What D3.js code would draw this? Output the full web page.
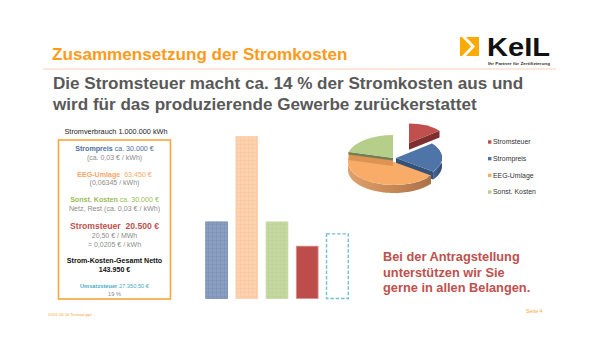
<!DOCTYPE html>
<html>
<head>
<meta charset="utf-8">
<script src="https://cdn.jsdelivr.net/npm/d3@7"></script>
<style>
  html, body { margin: 0; padding: 0; background: white; }
  text { font-family: "Liberation Sans", Arial, sans-serif; }
</style>
</head>
<body>
<div id="container"></div>
<script>
let w = 600;
let h = 350;

// values
let barCategories = ["Strompreis", "EEG-Umlage", "Sonst. Kosten", "Stromsteuer", "Umsatzsteuer"];
let barValues = [30000, 63450, 30000, 20500, 25300];
let pieCategories = ["Stromsteuer", "Strompreis", "EEG-Umlage", "Sonst. Kosten"];
let pieValues = [20500, 30000, 63450, 30000];
let legendLabels = ["Stromsteuer", "Strompreis", "EEG-Umlage", "Sonst. Kosten"];

let colors = {
  "Stromsteuer": "#c0504d",
  "Strompreis": "#4f75a8",
  "EEG-Umlage": "#f9ab67",
  "Sonst. Kosten": "#b5cf8b"
};
let wallColors = {
  "Stromsteuer": "#7e2f2d",
  "Strompreis": "#36527a",
  "EEG-Umlage": "#c98a55",
  "Sonst. Kosten": "#6f7f55"
};
// how far each slice is pulled out of the pie, the far slice also looks smaller
let pieOffset = {
  "Stromsteuer": [16, -15],
  "Strompreis": [3, 0],
  "EEG-Umlage": [1, 4],
  "Sonst. Kosten": [0, 0]
};
let pieShrink = {
  "Stromsteuer": 0.85,
  "Strompreis": 1,
  "EEG-Umlage": 1,
  "Sonst. Kosten": 1
};

let viz = d3.select("#container").append("svg")
    .attr("width", w)
    .attr("height", h)
    .style("display", "block")
    .style("background-color", "white")
;
let defs = viz.append("defs");

function gridPattern(id, fill, line){
  let p = defs.append("pattern")
      .attr("id", id)
      .attr("width", 4)
      .attr("height", 4)
      .attr("patternUnits", "userSpaceOnUse")
  ;
  p.append("rect").attr("width", 4).attr("height", 4).attr("fill", fill);
  p.append("path")
      .attr("d", "M0,0.5H4M0.5,0V4")
      .attr("stroke", line)
      .attr("stroke-width", 0.6)
      .attr("fill", "none")
  ;
}
gridPattern("gridBlue", "#8a9fc0", "#7a91b5");
gridPattern("gridOrange", "#fdd3af", "#fac59a");
gridPattern("gridGreen", "#c5d8a0", "#bbd192");

// wall shading, darker to the right
function wallGradient(id, a, b, c){
  let g = defs.append("linearGradient").attr("id", id);
  g.append("stop").attr("offset", "0%").attr("stop-color", a);
  g.append("stop").attr("offset", "50%").attr("stop-color", b);
  g.append("stop").attr("offset", "100%").attr("stop-color", c);
}
wallGradient("wallEEG", "#e0a06a", "#c98a58", "#a87248");
wallGradient("wallBlue", "#4a6b99", "#3b5a86", "#2f4a70");

defs.append("filter").attr("id", "soft")
  .append("feGaussianBlur").attr("stdDeviation", 0.35);

// --- headings ---
viz.append("text")
    .attr("x", 52).attr("y", 60)
    .attr("font-size", 17.1).attr("font-weight", "bold").attr("fill", "#ff9a1a")
    .text("Zusammensetzung der Stromkosten")
;
viz.append("line")
    .attr("x1", 43).attr("x2", 556).attr("y1", 69).attr("y2", 69)
    .attr("stroke", "#fde0cc").attr("stroke-width", 1.6)
;
let headLines = [
  "Die Stromsteuer macht ca. 14 % der Stromkosten aus und",
  "wird für das produzierende Gewerbe zurückerstattet"
];
let headY = d3.scalePoint().domain(headLines).range([89, 110]);
viz.selectAll(".head").data(headLines).enter().append("text")
    .attr("class", "head")
    .attr("x", 53)
    .attr("y", d=>headY(d))
    .attr("font-size", 17.1).attr("font-weight", "bold").attr("fill", "#595959")
    .text(d=>d)
;

// --- logo ---
let logo = viz.append("g").attr("class", "logo");
logo.append("rect").attr("x", 460).attr("y", 37).attr("width", 19).attr("height", 19).attr("fill", "#fbaa00");
logo.append("path").attr("d", "M462,37L471,46.5L462,56H466L475,46.5L466,37Z").attr("fill", "white");
logo.append("text")
    .attr("x", 487).attr("y", 56)
    .attr("font-size", 25).attr("font-weight", "bold").attr("fill", "#111")
    .attr("textLength", 63).attr("lengthAdjust", "spacingAndGlyphs")
    .text("KeIL")
;
logo.append("text")
    .attr("x", 488).attr("y", 65)
    .attr("font-size", 4.2).attr("font-weight", "bold").attr("fill", "#333")
    .attr("textLength", 62).attr("lengthAdjust", "spacingAndGlyphs")
    .text("Ihr Partner für Zertifizierung")
;

// --- left text box ---
viz.append("text")
    .attr("x", 116).attr("y", 133.5).attr("text-anchor", "middle")
    .attr("font-size", 7.3).attr("fill", "#222")
    .text("Stromverbrauch  1.000.000 kWh")
;
viz.append("rect")
    .attr("x", 58.5).attr("y", 140).attr("width", 112).attr("height", 159)
    .attr("fill", "white").attr("stroke", "#f9a63a").attr("stroke-width", 1.6)
;
let blue = "#4f6f9f", orange = "#f9a66a", green = "#9bbb59", red = "#c0504d", gray = "#8c8c8c", cyan = "#4bacc6";
let boxLines = [
  {y: 151, size: 7.1, parts: [["Strompreis", blue, "bold"], [" ca. 30.000 €", blue, "normal"]]},
  {y: 159.5, size: 7, parts: [["(ca. 0,03 € / kWh)", gray, "normal"]]},
  {y: 176.5, size: 7.1, parts: [["EEG-Umlage", orange, "bold"], ["  63.450 €", orange, "normal"]]},
  {y: 185, size: 7, parts: [["(0,06345 / kWh)", gray, "normal"]]},
  {y: 202, size: 7.1, parts: [["Sonst. Kosten", green, "bold"], [" ca. 30.000 €", green, "normal"]]},
  {y: 210.5, size: 7.1, parts: [["Netz, Rest (ca. 0,03 € / kWh)", gray, "normal"]]},
  {y: 228.5, size: 8.6, parts: [["Stromsteuer  20.500 €", red, "bold"]]},
  {y: 237.5, size: 7, parts: [["20,50 € / MWh", gray, "normal"]]},
  {y: 246.5, size: 7, parts: [["= 0,0205 € / kWh", gray, "normal"]]},
  {y: 263, size: 7.1, parts: [["Strom-Kosten-Gesamt Netto", "#111", "bold"]]},
  {y: 272, size: 7.1, parts: [["143.950 €", "#111", "bold"]]},
  {y: 288, size: 5.7, parts: [["Umsatzsteuer", cyan, "bold"], [" 27.350,50 €", cyan, "normal"]]},
  {y: 295.5, size: 5.7, parts: [["19 %", gray, "normal"]]}
];
let boxText = viz.selectAll(".boxline").data(boxLines).enter().append("text")
    .attr("class", "boxline")
    .attr("x", 114.5)
    .attr("y", d=>d.y)
    .attr("text-anchor", "middle")
    .attr("font-size", d=>d.size)
;
boxText.selectAll("tspan").data(d=>d.parts).enter().append("tspan")
    .attr("fill", d=>d[1])
    .attr("font-weight", d=>d[2])
    .style("white-space", "pre")
    .text(d=>d[0])
;

// --- bars ---
let barX = d3.scaleBand().domain(barCategories).range([201.5, 352.5]).paddingInner(0.28).paddingOuter(0.14);
let barY = d3.scaleLinear().domain([0, 63450]).range([298.5, 136.5]);
let barFill = ["url(#gridBlue)", "url(#gridOrange)", "url(#gridGreen)", "#bd4d4a", "white"];
let barStroke = ["#6f88ad", "#fbd0ac", "#c5d8a0", "#d98f8c", "#72c0d6"];

viz.append("g").attr("class", "bars").selectAll("rect").data(barCategories).enter().append("rect")
    .attr("x", d=>barX(d))
    .attr("y", (d, i)=>barY(barValues[i]))
    .attr("width", barX.bandwidth())
    .attr("height", (d, i)=>barY(0) - barY(barValues[i]))
    .attr("fill", (d, i)=>barFill[i])
    .attr("stroke", (d, i)=>barStroke[i])
    .attr("stroke-width", (d, i)=>i==4 ? 1.4 : 0.8)
    .attr("stroke-dasharray", (d, i)=>i==4 ? "3.5,1.8" : null)
;

// --- 3d pie, a flat pie squashed in y plus hand built walls ---
let pieCx = 393;
let pieCy = 158;
let rx = 46;
let ry = 23;
let depth = 8;

let pie = d3.pie().sort(null)(pieValues);
pie.forEach((d, i)=>{ d.name = pieCategories[i]; });
let arc = d3.arc().innerRadius(0).outerRadius(1);
let ptX = a=>Math.sin(a)*rx;
let ptY = a=>-Math.cos(a)*ry;
let rim = d3.area().x(d=>ptX(d)).y0(d=>ptY(d)).y1(d=>ptY(d) + depth);

function radialWall(a, dep){
  return "M0,0L" + ptX(a) + "," + ptY(a) + "L" + ptX(a) + "," + (ptY(a)+dep) + "L0," + dep + "Z";
}

let order = ["Stromsteuer", "Strompreis", "EEG-Umlage", "Sonst. Kosten"];
let pieGroup = viz.append("g").attr("class", "pie").attr("filter", "url(#soft)");

order.forEach(name=>{
  let d = pie.find(p=>p.name == name);
  let off = pieOffset[name];
  let g = pieGroup.append("g")
      .attr("transform", "translate(" + (pieCx+off[0]) + "," + (pieCy+off[1]) + ") scale(" + pieShrink[name] + ")")
  ;
  // radial walls and outer rim
  if(name == "Stromsteuer"){
    g.append("path").attr("d", radialWall(d.endAngle, depth)).attr("fill", wallColors[name]);
  }
  if(name == "Strompreis"){
    g.append("path").attr("d", radialWall(d.endAngle, depth)).attr("fill", "#36527a");
  }
  if(name == "Sonst. Kosten"){
    g.append("path").attr("d", radialWall(d.startAngle, depth)).attr("fill", "#dc9353");
    g.append("path").attr("d", radialWall(d.startAngle, 2.5)).attr("fill", wallColors[name]);
  }
  let from = Math.max(d.startAngle, Math.PI/2);
  let to = Math.min(d.endAngle, Math.PI*1.5);
  if(name == "Strompreis"){ from = d.startAngle; }
  if(to > from){
    let steps = d3.range(from, to, 0.03).concat([to]);
    g.append("path")
        .attr("d", rim(steps))
        .attr("fill", name == "EEG-Umlage" ? "url(#wallEEG)" : name == "Strompreis" ? "url(#wallBlue)" : wallColors[name])
    ;
  }
  // top face
  g.append("path")
      .attr("d", arc(d))
      .attr("transform", "scale(" + rx + "," + ry + ")")
      .attr("fill", colors[name])
  ;
});

// --- legend ---
let legendY = d3.scalePoint().domain(legendLabels).range([142, 192]);
let legend = viz.append("g").attr("class", "legend");
legend.selectAll("rect").data(legendLabels).enter().append("rect")
    .attr("x", 488)
    .attr("y", d=>legendY(d) - 1.7)
    .attr("width", 3.4)
    .attr("height", 3.4)
    .attr("fill", d=>colors[d])
;
legend.selectAll("text").data(legendLabels).enter().append("text")
    .attr("x", 493)
    .attr("y", d=>legendY(d) + 2.4)
    .attr("font-size", 6.9)
    .attr("fill", "#333")
    .text(d=>d)
;

// --- right text and footer ---
let callout = ["Bei der Antragstellung", "unterstützen wir Sie", "gerne in allen Belangen."];
let calloutY = d3.scalePoint().domain(callout).range([261, 292]);
viz.selectAll(".callout").data(callout).enter().append("text")
    .attr("class", "callout")
    .attr("x", 383)
    .attr("y", d=>calloutY(d))
    .attr("font-size", 12.8).attr("font-weight", "bold").attr("fill", "#c0504d")
    .text(d=>d)
;
viz.append("text")
    .attr("x", 526).attr("y", 312.5)
    .attr("font-size", 5.3).attr("fill", "#f9a63a")
    .text("Seite 4")
;
viz.append("text")
    .attr("x", 48).attr("y", 315.5)
    .attr("font-size", 4.3).attr("fill", "#f9a63a")
    .text("2016 06 16 Testate.ppt")
;
</script>
</body>
</html>
